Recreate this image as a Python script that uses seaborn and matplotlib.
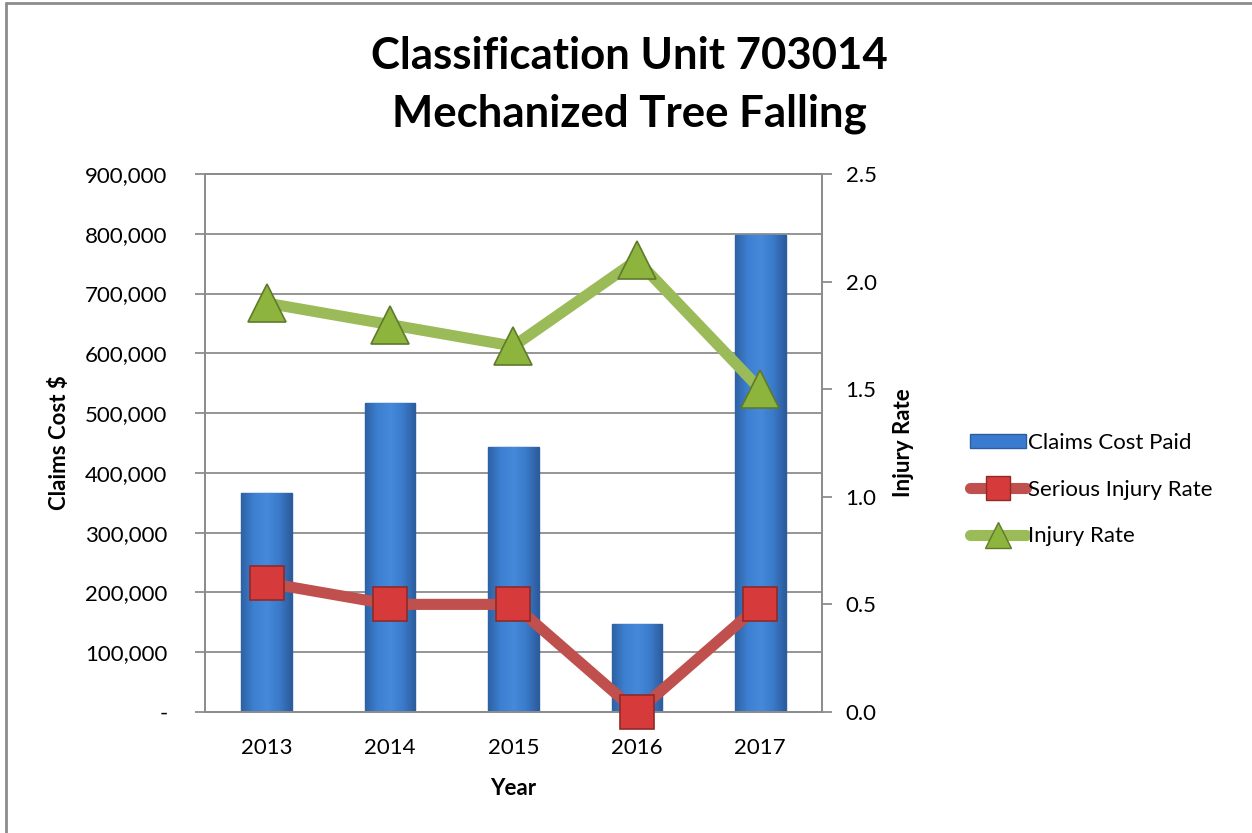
import numpy as np
import pandas as pd
import seaborn as sns
import matplotlib.pyplot as plt
from matplotlib.lines import Line2D
from matplotlib.patches import Patch
from matplotlib.colors import LinearSegmentedColormap
from matplotlib.ticker import FuncFormatter, FixedLocator

# chart data
years = ["2013", "2014", "2015", "2016", "2017"]
claims_cost = [366000, 517000, 443000, 147000, 798000]
serious_rate = [0.6, 0.5, 0.5, 0.0, 0.5]
injury_rate = [1.9, 1.8, 1.7, 2.1, 1.5]

df = pd.DataFrame({"year": years, "cost": claims_cost,
                   "serious": serious_rate, "injury": injury_rate})

sns.set_style("white")
plt.rcParams["font.family"] = ["Lato", "DejaVu Sans"]
plt.rcParams["text.color"] = "black"
plt.rcParams["axes.labelcolor"] = "black"

grey = "#8C8C8C"
fig = plt.figure(figsize=(12.52, 8.33), dpi=100)
ax = fig.add_axes([0.1637, 0.1453, 0.6565 - 0.1637, 0.7911 - 0.1453])

# bars
sns.barplot(data=df, x="year", y="cost", ax=ax, color="#3A7BCF",
            width=0.41, saturation=1, edgecolor="#2B5E9E", linewidth=1.0, zorder=2)

# shaded look on the bars (lighter centre, darker edges)
bar_cmap = LinearSegmentedColormap.from_list(
    "bar", ["#2E62A4", "#3D80D2", "#4689DA", "#3B7BCB", "#2C5C9C"])
grad = np.outer(np.ones(64), np.linspace(0, 1, 64))
for p in ax.patches:
    x0, y0 = p.get_x(), p.get_y()
    w, h = p.get_width(), p.get_height()
    im = ax.imshow(grad, extent=(x0, x0 + w, y0, y0 + h), aspect="auto",
                   cmap=bar_cmap, origin="lower", zorder=2.1, interpolation="bicubic")
    im.set_clip_path(p)

ax.set_ylim(0, 900000)
ax.set_xlim(-0.5, 4.5)
ax.yaxis.set_major_locator(FixedLocator(np.arange(0, 900001, 100000)))
ax.yaxis.set_major_formatter(FuncFormatter(lambda v, p: "-" if v == 0 else f"{int(v):,}"))
ax.grid(axis="y", color=grey, linewidth=1.3, zorder=0)
ax.set_axisbelow(True)
ax.set_xticks(np.arange(-0.5, 4.6, 1), minor=False)
ax.set_xticklabels([])
ax.set_xticks(np.arange(5), minor=True)
ax.set_xticklabels(years, minor=True)
ax.tick_params(axis="x", which="major", direction="out", length=7, color=grey, width=1.3)
ax.tick_params(axis="x", which="minor", length=0, labelsize=16, pad=19, labelcolor="black")
ax.tick_params(axis="y", direction="out", length=7, color=grey, width=1.3,
               labelsize=16, left=True, pad=20, labelcolor="black")
for s in ax.spines.values():
    s.set_color(grey)
    s.set_linewidth(1.3)
ax.set_xlabel("Year", fontsize=16, fontweight="bold", labelpad=14)
ax.set_ylabel("Claims Cost $", fontsize=16, fontweight="bold", labelpad=11)

# lines on the right axis
ax2 = ax.twinx()
sns.pointplot(data=df, x="year", y="serious", ax=ax2, color="#C0504D",
              markers="s", linestyles="-", errorbar=None)
sns.pointplot(data=df, x="year", y="injury", ax=ax2, color="#9BBB59",
              markers="^", linestyles="-", errorbar=None)
styles = [("#C0504D", "#D63A3A", "#8E2A28", 25), ("#9BBB59", "#8DB43C", "#5E7A2A", 28)]
for ln, (lc, fc, ec, ms) in zip(ax2.lines, styles):
    ln.set_color(lc)
    ln.set_linewidth(8)
    ln.set_markerfacecolor(fc)
    ln.set_markeredgecolor(ec)
    ln.set_markeredgewidth(1.2)
    ln.set_markersize(ms)
    ln.set_clip_on(False)
    ln.set_zorder(3)
ax2.set_ylim(0, 2.5)
ax2.set_xlim(-0.5, 4.5)
ax2.set_yticks(np.arange(0, 2.51, 0.5))
ax2.yaxis.set_major_formatter(FuncFormatter(lambda v, p: f"{v:.1f}"))
ax2.tick_params(axis="y", direction="out", length=7, color=grey, width=1.3,
                labelsize=16, right=True, pad=10, labelcolor="black")
for s in ax2.spines.values():
    s.set_color(grey)
    s.set_linewidth(1.3)
ax2.set_xlabel("")
ax2.set_ylabel("Injury Rate", fontsize=16, fontweight="bold", labelpad=12)

# title
fig.text(0.503, 0.933, "Classification Unit 703014", ha="center", va="center",
         fontsize=31.5, fontweight="bold")
fig.text(0.503, 0.863, "Mechanized Tree Falling", ha="center", va="center",
         fontsize=31.5, fontweight="bold")

# legend
handles = [
    Patch(facecolor="#3A7BCF", edgecolor="#2B5E9E"),
    Line2D([], [], color="#C0504D", lw=8, marker="s", ms=17,
           mfc="#D63A3A", mec="#8E2A28", solid_capstyle="round"),
    Line2D([], [], color="#9BBB59", lw=8, marker="^", ms=19,
           mfc="#8DB43C", mec="#5E7A2A", solid_capstyle="round"),
]
fig.legend(handles, ["Claims Cost Paid", "Serious Injury Rate", "Injury Rate"],
           loc="center left", bbox_to_anchor=(0.759, 0.412), frameon=False,
           fontsize=16, handlelength=2.5, handleheight=0.6, handletextpad=0.1,
           labelspacing=1.2)

# chart border (only left and top edges show in the reference crop)
fig.add_artist(Line2D([0.005, 0.005], [0, 0.996], transform=fig.transFigure,
                      color=grey, lw=2))
fig.add_artist(Line2D([0.005, 1], [0.996, 0.996], transform=fig.transFigure,
                      color=grey, lw=2))

fig.savefig("out.png", dpi=100)
